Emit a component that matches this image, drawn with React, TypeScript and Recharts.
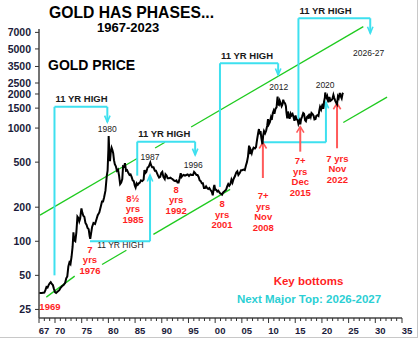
import { LineChart, Line, XAxis, YAxis, ReferenceLine, ReferenceDot } from 'recharts'

const FONT = '"Liberation Sans", Arial, sans-serif'
const CYAN = '#3ee0ef'
const GREEN = '#1fcb1f'
const RED_ARROW = '#ff5a5a'
const RED_TEXT = '#ff1f1f'

// gold price, [year, usd/oz]
const goldPrice: [number, number][] = [
  [1967.0, 35], [1967.5, 35], [1968.0, 35.2], [1968.2, 37], [1968.4, 39.5], [1968.6, 39], [1968.8, 41],
  [1969.0, 42.5], [1969.2, 43.5], [1969.4, 42], [1969.6, 41], [1969.8, 38], [1970.0, 35.5], [1970.2, 35],
  [1970.5, 36], [1970.8, 37], [1971.0, 38.5], [1971.3, 40], [1971.6, 41], [1971.9, 43], [1972.1, 47],
  [1972.3, 49], [1972.5, 60], [1972.7, 65], [1972.9, 63], [1973.1, 73], [1973.3, 90], [1973.45, 120],
  [1973.6, 102], [1973.8, 100], [1974.0, 120], [1974.2, 165], [1974.4, 160], [1974.55, 150], [1974.7, 158],
  [1974.85, 180], [1974.95, 195], [1975.1, 180], [1975.3, 168], [1975.5, 164], [1975.7, 145], [1975.9, 140],
  [1976.1, 131], [1976.3, 128], [1976.5, 110], [1976.6, 105], [1976.75, 117], [1976.95, 134], [1977.2, 145],
  [1977.5, 142], [1977.8, 158], [1978.0, 170], [1978.3, 180], [1978.6, 205], [1978.8, 225], [1979.0, 225],
  [1979.2, 245], [1979.45, 280], [1979.7, 380], [1979.85, 420], [1980.0, 650], [1980.05, 850], [1980.2, 560],
  [1980.3, 510], [1980.45, 620], [1980.6, 670], [1980.75, 640], [1980.9, 600], [1981.05, 520], [1981.2, 480],
  [1981.4, 460], [1981.6, 420], [1981.8, 430], [1982.0, 380], [1982.2, 320], [1982.4, 330], [1982.6, 355],
  [1982.75, 460], [1982.95, 455], [1983.1, 490], [1983.3, 420], [1983.5, 425], [1983.75, 400], [1983.95, 385],
  [1984.15, 390], [1984.35, 370], [1984.55, 345], [1984.75, 340], [1984.95, 310], [1985.1, 298], [1985.3, 325],
  [1985.5, 315], [1985.7, 325], [1985.9, 330], [1986.1, 345], [1986.35, 340], [1986.6, 350], [1986.75, 425],
  [1986.9, 400], [1987.1, 410], [1987.35, 450], [1987.55, 455], [1987.85, 495], [1988.0, 470], [1988.2, 450],
  [1988.45, 450], [1988.7, 420], [1988.9, 420], [1989.1, 400], [1989.3, 380], [1989.5, 365], [1989.7, 370],
  [1989.9, 400], [1990.1, 410], [1990.3, 370], [1990.55, 355], [1990.7, 390], [1990.9, 380], [1991.1, 360],
  [1991.35, 360], [1991.6, 365], [1991.85, 358], [1992.0, 355], [1992.25, 345], [1992.5, 340], [1992.75, 345],
  [1992.95, 330], [1993.15, 330], [1993.35, 360], [1993.55, 400], [1993.7, 370], [1993.9, 380], [1994.1, 385],
  [1994.35, 380], [1994.6, 385], [1994.85, 390], [1995.1, 378], [1995.35, 390], [1995.6, 385], [1995.85, 385],
  [1996.05, 410], [1996.25, 400], [1996.5, 385], [1996.7, 385], [1996.9, 370], [1997.1, 345], [1997.3, 340],
  [1997.5, 325], [1997.7, 325], [1997.9, 295], [1998.1, 295], [1998.3, 305], [1998.5, 295], [1998.7, 290],
  [1998.9, 295], [1999.1, 285], [1999.35, 275], [1999.55, 255], [1999.75, 300], [1999.85, 315], [2000.0, 285],
  [2000.2, 285], [2000.4, 275], [2000.6, 280], [2000.8, 270], [2000.95, 265], [2001.15, 262], [2001.3, 258],
  [2001.5, 270], [2001.7, 275], [2001.85, 280], [2002.05, 285], [2002.25, 305], [2002.45, 320], [2002.65, 310],
  [2002.85, 320], [2003.05, 350], [2003.25, 330], [2003.45, 355], [2003.7, 375], [2003.95, 405], [2004.15, 415],
  [2004.35, 385], [2004.6, 400], [2004.85, 425], [2005.05, 425], [2005.3, 430], [2005.55, 425], [2005.75, 465],
  [2005.95, 500], [2006.15, 560], [2006.35, 700], [2006.5, 590], [2006.65, 640], [2006.85, 600], [2007.0, 640],
  [2007.2, 670], [2007.45, 660], [2007.65, 680], [2007.85, 790], [2008.05, 900], [2008.2, 980], [2008.35, 880],
  [2008.5, 940], [2008.65, 820], [2008.85, 720], [2009.0, 860], [2009.15, 940], [2009.35, 900], [2009.55, 950],
  [2009.75, 1050], [2009.9, 1200], [2010.05, 1080], [2010.25, 1130], [2010.45, 1240], [2010.6, 1180],
  [2010.8, 1360], [2010.95, 1420], [2011.1, 1340], [2011.3, 1480], [2011.5, 1520], [2011.65, 1820],
  [2011.7, 1900], [2011.8, 1620], [2011.95, 1600], [2012.1, 1740], [2012.3, 1640], [2012.45, 1560],
  [2012.6, 1620], [2012.75, 1780], [2012.9, 1690], [2013.1, 1650], [2013.25, 1560], [2013.35, 1380],
  [2013.5, 1220], [2013.65, 1400], [2013.8, 1290], [2013.95, 1210], [2014.15, 1340], [2014.3, 1290],
  [2014.5, 1330], [2014.7, 1240], [2014.85, 1160], [2015.05, 1290], [2015.25, 1190], [2015.45, 1180],
  [2015.6, 1090], [2015.8, 1160], [2015.95, 1080], [2016.1, 1200], [2016.3, 1270], [2016.5, 1360],
  [2016.65, 1340], [2016.85, 1170], [2017.0, 1150], [2017.2, 1250], [2017.4, 1280], [2017.55, 1210],
  [2017.7, 1340], [2017.9, 1260], [2018.05, 1360], [2018.25, 1330], [2018.45, 1280], [2018.6, 1190],
  [2018.8, 1200], [2018.95, 1280], [2019.15, 1300], [2019.35, 1280], [2019.5, 1420], [2019.65, 1540],
  [2019.85, 1460], [2020.0, 1560], [2020.15, 1640], [2020.25, 1480], [2020.4, 1720], [2020.55, 1850],
  [2020.62, 2060], [2020.75, 1900], [2020.9, 1840], [2021.0, 1900], [2021.2, 1690], [2021.4, 1880],
  [2021.6, 1740], [2021.75, 1760], [2021.95, 1800], [2022.15, 1960], [2022.3, 1850], [2022.5, 1740],
  [2022.7, 1660], [2022.83, 1620], [2023.0, 1900], [2023.15, 1840], [2023.35, 2040], [2023.5, 1920],
  [2023.7, 1830], [2023.85, 2000], [2023.95, 2050],
]

const yTicks = [25, 50, 100, 200, 500, 1000, 1500, 2000, 2500, 3500, 5000, 7000]
const xMajor = [1967, 1970, 1975, 1980, 1985, 1990, 1995, 2000, 2005, 2010, 2015, 2020, 2025, 2030, 2035]
const xLabels = ['67', '70', '75', '80', '85', '90', '95', '00', '05', '10', '15', '20', '25', '30', '35']
const xTicks: number[] = []
for (let y = 1967; y <= 2035; y++) xTicks.push(y)

// "11 YR HIGH" brackets from a low up to the next high (arrow down)
const highBrackets = [
  { from: 1969.9, base: 50, to: 1979.8, top: 1540, tip: 1130 },
  { from: 1985.4, base: 380, to: 1996.25, top: 758, tip: 578 },
  { from: 2000.9, base: 302, to: 2011.8, top: 3735, tip: 2945 },
  { from: 2015.6, base: 1155, to: 2029.05, top: 9330, tip: 6880 },
]
// brackets drawn under the chart (arrow up)
const lowBrackets = [
  { from: 1976.55, level: 100, to: 1987.8, tip: 385 },
  { from: 2008.9, level: 749, to: 2020.75, tip: 1700 },
]

// channel lines
const upperChannel = [
  [[1967.19, 170], [1985.38, 538]],
  [[1988.75, 666], [1990.6, 750]],
  [[1995.5, 1021], [2027.75, 7864]],
]
const lowerChannel = [
  [[1968.37, 32.1], [1973.69, 49.2]],
  [[1978.81, 62.4], [1983.37, 83.4]],
  [[1988.43, 115.1], [2002.8, 287]],
  [[2024.0, 1119], [2032.2, 1878]],
]

const bottomArrows = [
  { year: 2008.94, from: 362, to: 745 },
  { year: 2015.94, from: 619, to: 1029 },
  { year: 2022.83, from: 663, to: 1656 },
]

const bottomLabels = [
  { year: 1969.05, value: 24.7, lines: ['1969'] },
  { year: 1976.55, value: 79.3, lines: ['7', 'yrs', '1976'] },
  { year: 1984.6, value: 224, lines: ['8½', 'yrs', '1985'] },
  { year: 1992.7, value: 269, lines: ['8', 'yrs', '1992'] },
  { year: 2001.3, value: 200, lines: ['8', 'yrs', '2001'] },
  { year: 2009.0, value: 236, lines: ['7+', 'yrs', 'Nov', '2008'] },
  { year: 2015.94, value: 479, lines: ['7+', 'yrs', 'Dec', '2015'] },
  { year: 2022.9, value: 502, lines: ['7 yrs', 'Nov', '2022'] },
]

const peakLabels = [
  { year: 1979.8, value: 924, text: '1980' },
  { year: 1987.8, value: 526, text: '1987' },
  { year: 1995.9, value: 447, text: '1996' },
  { year: 2011.9, value: 2158, text: '2012' },
  { year: 2020.6, value: 2261, text: '2020' },
  { year: 2028.75, value: 4362, text: '2026-27' },
  { year: 1977.9, value: 88, text: '11 YR HIGH', start: true },
]

const data = goldPrice.map(([year, price]) => ({ year, price }))

function arrowShape(color: string, width: number, len: number, spread: number) {
  return (p: any) => {
    const { x1, y1, x2, y2 } = p
    const a = Math.atan2(y2 - y1, x2 - x1)
    const lx = x2 - len * Math.cos(a - spread)
    const ly = y2 - len * Math.sin(a - spread)
    const rx = x2 - len * Math.cos(a + spread)
    const ry = y2 - len * Math.sin(a + spread)
    return (
      <g>
        <line x1={x1} y1={y1} x2={x2} y2={y2} stroke={color} strokeWidth={width} />
        <polyline points={`${lx},${ly} ${x2},${y2} ${rx},${ry}`} fill="none" stroke={color} strokeWidth={width * 0.8} />
      </g>
    )
  }
}

const bracketTop = (p: any) => (
  <g>
    <line x1={p.x1} y1={p.y1} x2={p.x2} y2={p.y2} stroke={CYAN} strokeWidth={2} />
    <text x={p.x1 + 1} y={p.y1 - 4.5} fontSize={9.5} fontWeight="bold" fill="#1a1a1a" fontFamily={FONT}>
      11 YR HIGH
    </text>
  </g>
)

function XTick(props: any) {
  const { x, y, payload } = props
  const i = xMajor.indexOf(payload.value)
  return (
    <g>
      <line x1={x} x2={x} y1={y} y2={y + (i >= 0 ? 5 : 3)} stroke="#333" strokeWidth={1} />
      {i >= 0 && (
        <text x={x + 5} y={y + 16} textAnchor="middle" fontSize={9.5} fontWeight="bold" fill="#1b1b3a" fontFamily={FONT}>
          {xLabels[i]}
        </text>
      )}
    </g>
  )
}

export default function App() {
  return (
    <div style={{ position: 'absolute', left: 0, top: 0, width: 418, height: 338, background: '#fff', boxSizing: 'border-box', borderRight: '1px solid #c8c8c8', borderBottom: '1px solid #c8c8c8' }}>
      <LineChart width={418} height={338} data={data} margin={{ top: 29, right: 16, bottom: 0, left: 0 }}>
        <XAxis
          dataKey="year"
          type="number"
          domain={[1967, 2035]}
          allowDataOverflow
          ticks={xTicks}
          interval={0}
          tickSize={0}
          tickMargin={0}
          tick={<XTick />}
          height={20}
          axisLine={{ stroke: '#444', strokeWidth: 1.5 }}
        />
        <YAxis
          scale="log"
          type="number"
          domain={[21, 7500]}
          allowDataOverflow
          ticks={yTicks}
          interval={0}
          width={39}
          tickSize={4}
          tickMargin={4}
          tickLine={{ stroke: '#333' }}
          axisLine={{ stroke: '#444', strokeWidth: 1.5 }}
          tick={{ fontSize: 10.5, fontWeight: 'bold', fill: '#1b1b3a', fontFamily: FONT }}
        />

        {upperChannel.concat(lowerChannel).map((s, i) => (
          <ReferenceLine
            key={'g' + i}
            segment={[{ x: s[0][0], y: s[0][1] }, { x: s[1][0], y: s[1][1] }]}
            stroke={GREEN}
            strokeWidth={1.3}
            ifOverflow="visible"
          />
        ))}

        {highBrackets.map((b, i) => [
          <ReferenceLine key={'hv' + i} segment={[{ x: b.from, y: b.base }, { x: b.from, y: b.top }]} stroke={CYAN} strokeWidth={2} ifOverflow="visible" />,
          <ReferenceLine key={'hh' + i} segment={[{ x: b.from, y: b.top }, { x: b.to, y: b.top }]} ifOverflow="visible" shape={bracketTop} />,
          <ReferenceLine key={'ha' + i} segment={[{ x: b.to, y: b.top }, { x: b.to, y: b.tip }]} ifOverflow="visible" shape={arrowShape(CYAN, 2, 7, 0.4)} />,
        ])}

        {lowBrackets.map((b, i) => [
          <ReferenceLine key={'lh' + i} segment={[{ x: b.from, y: b.level }, { x: b.to, y: b.level }]} stroke={CYAN} strokeWidth={2} ifOverflow="visible" />,
          <ReferenceLine key={'la' + i} segment={[{ x: b.to, y: b.level }, { x: b.to, y: b.tip }]} ifOverflow="visible" shape={arrowShape(CYAN, 2, 7, 0.4)} />,
        ])}

        {bottomArrows.map((a, i) => (
          <ReferenceLine key={'ra' + i} segment={[{ x: a.year, y: a.from }, { x: a.year, y: a.to }]} ifOverflow="visible" shape={arrowShape(RED_ARROW, 2, 7, 0.55)} />
        ))}

        <Line type="linear" dataKey="price" stroke="#000" strokeWidth={2} dot={false} isAnimationActive={false} />

        {peakLabels.map((l, i) => (
          <ReferenceDot
            key={'pl' + i}
            x={l.year}
            y={l.value}
            r={0}
            ifOverflow="visible"
            shape={(p: any) => (
              <text x={p.cx} y={p.cy} textAnchor={l.start ? 'start' : 'middle'} fontSize={8.5} fill="#222" fontFamily={FONT}>
                {l.text}
              </text>
            )}
          />
        ))}

        {bottomLabels.map((l, i) => (
          <ReferenceDot
            key={'bl' + i}
            x={l.year}
            y={l.value}
            r={0}
            ifOverflow="visible"
            shape={(p: any) => (
              <text x={p.cx} y={p.cy} textAnchor="middle" fontSize={9.5} fontWeight="bold" fill={RED_TEXT} fontFamily={FONT}>
                {l.lines.map((t, j) => (
                  <tspan key={j} x={p.cx} dy={j === 0 ? 0 : 10.5}>{t}</tspan>
                ))}
              </text>
            )}
          />
        ))}
      </LineChart>

      <svg width={418} height={338} style={{ position: 'absolute', left: 0, top: 0, pointerEvents: 'none' }}>
        <text x={49} y={17.5} fontSize={17} fontWeight="bold" fill="#000" fontFamily={FONT} textLength={165} lengthAdjust="spacingAndGlyphs">
          GOLD HAS PHASES...
        </text>
        <text x={97} y={32.3} fontSize={13} fontWeight="bold" fill="#000" fontFamily={FONT}>1967-2023</text>
        <text x={48} y={70} fontSize={14} fontWeight="bold" fill="#000" fontFamily={FONT}>GOLD PRICE</text>
        <text x={308.5} y={285} textAnchor="middle" fontSize={11.5} fontWeight="bold" fill={RED_TEXT} fontFamily={FONT}>Key bottoms</text>
        <text x={309} y={303.3} textAnchor="middle" fontSize={11.5} fontWeight="bold" fill="#2ccfd4" fontFamily={FONT}>Next Major Top: 2026-2027</text>
      </svg>
    </div>
  )
}
